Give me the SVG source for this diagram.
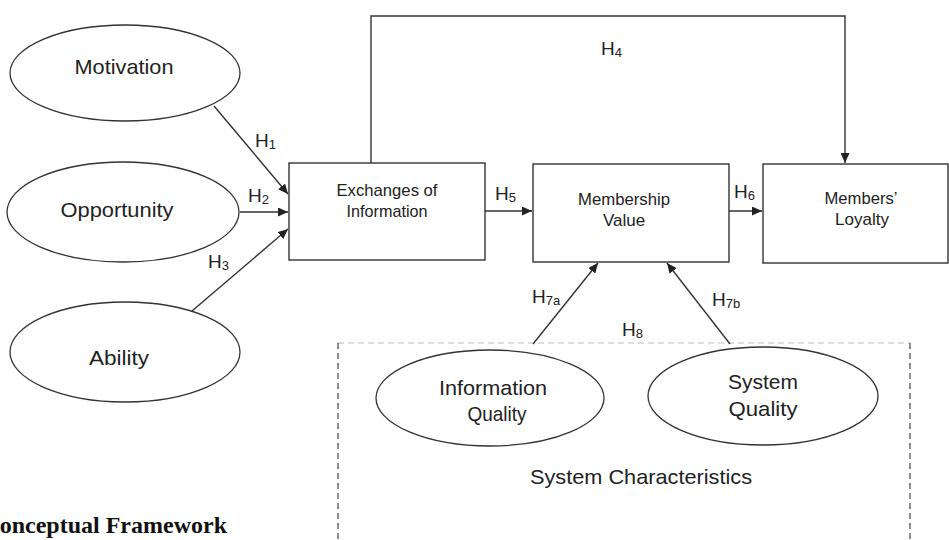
<svg xmlns="http://www.w3.org/2000/svg" width="949" height="540" viewBox="0 0 949 540">
<style>
.bg{fill:#ffffff}
.node{fill:#ffffff;stroke:#333333;stroke-width:1.4}
.ell{fill:#ffffff;stroke:#333333;stroke-width:1.3}
.lbl{font-family:"Liberation Sans",Arial,sans-serif;fill:#222222;text-anchor:middle}
.big{font-size:21px}
.box{font-size:17px}
.h{font-family:"Liberation Sans",Arial,sans-serif;fill:#222222;font-size:19px}
.sub{font-size:13px}
.edge{fill:none;stroke:#333333;stroke-width:1.4}
.dash{fill:none;stroke:#444444;stroke-width:1.2;stroke-dasharray:6,4}
.dashl{fill:none;stroke:#bbbbbb;stroke-width:1.2;stroke-dasharray:6,4}
.title{font-family:"Liberation Serif","Times New Roman",serif;font-weight:bold;font-size:24px;fill:#111111;text-anchor:end}
</style>
<defs>
<marker id="arr" markerUnits="userSpaceOnUse" markerWidth="11" markerHeight="9" refX="10" refY="4.5" orient="auto">
<path d="M0,0 L10,4.5 L0,9 z" fill="#222222"/>
</marker>
</defs>
<rect class="bg" x="0" y="0" width="949" height="540"/>

<g id="system-characteristics">
<path class="dashl" d="M338,343 L910,343"/>
<path class="dash" d="M338,343 L338,540 M910,343 L910,540"/>
<text class="lbl big" x="641" y="484" textLength="222" lengthAdjust="spacingAndGlyphs">System Characteristics</text>
</g>

<g id="connectors">
<path class="edge" d="M214,106 L288,194" marker-end="url(#arr)"/>
<path class="edge" d="M240,212 L288,212" marker-end="url(#arr)"/>
<path class="edge" d="M192,311 L288,229" marker-end="url(#arr)"/>
<path class="edge" d="M371,163 L371,16 L845,16 L845,163" marker-end="url(#arr)"/>
<path class="edge" d="M485,211 L532,211" marker-end="url(#arr)"/>
<path class="edge" d="M729,211 L762,211" marker-end="url(#arr)"/>
<path class="edge" d="M533,344 L598,263" marker-end="url(#arr)"/>
<path class="edge" d="M730,344 L667,263" marker-end="url(#arr)"/>
<text class="h" x="255" y="147">H<tspan class="sub" dy="2">1</tspan></text>
<text class="h" x="248" y="202">H<tspan class="sub" dy="2">2</tspan></text>
<text class="h" x="208" y="268">H<tspan class="sub" dy="2">3</tspan></text>
<text class="h" x="601" y="55">H<tspan class="sub" dy="2">4</tspan></text>
<text class="h" x="495" y="200">H<tspan class="sub" dy="2">5</tspan></text>
<text class="h" x="734" y="198">H<tspan class="sub" dy="2">6</tspan></text>
<text class="h" x="532" y="303">H<tspan class="sub" dy="2">7a</tspan></text>
<text class="h" x="712" y="306">H<tspan class="sub" dy="2">7b</tspan></text>
<text class="h" x="622" y="336">H<tspan class="sub" dy="2">8</tspan></text>
</g>

<g id="motivation">
<ellipse class="ell" cx="125" cy="73" rx="115" ry="48"/>
<text class="lbl big" x="124" y="74" textLength="99" lengthAdjust="spacingAndGlyphs">Motivation</text>
</g>

<g id="opportunity">
<ellipse class="ell" cx="123" cy="212" rx="116" ry="50"/>
<text class="lbl big" x="117" y="217" textLength="113" lengthAdjust="spacingAndGlyphs">Opportunity</text>
</g>

<g id="ability">
<ellipse class="ell" cx="125" cy="352" rx="115" ry="50"/>
<text class="lbl big" x="119" y="365" textLength="60" lengthAdjust="spacingAndGlyphs">Ability</text>
</g>

<g id="exchanges">
<rect class="node" x="289" y="163" width="196" height="97"/>
<text class="lbl box" x="387" y="196" textLength="101" lengthAdjust="spacingAndGlyphs">Exchanges of</text>
<text class="lbl box" x="387" y="217" textLength="81" lengthAdjust="spacingAndGlyphs">Information</text>
</g>

<g id="membership-value">
<rect class="node" x="533" y="164" width="196" height="98"/>
<text class="lbl box" x="624" y="205" textLength="92" lengthAdjust="spacingAndGlyphs">Membership</text>
<text class="lbl box" x="624" y="226">Value</text>
</g>

<g id="members-loyalty">
<rect class="node" x="763" y="164" width="185" height="99"/>
<text class="lbl box" x="861" y="204" textLength="73" lengthAdjust="spacingAndGlyphs">Members’</text>
<text class="lbl box" x="862" y="225">Loyalty</text>
</g>

<g id="information-quality">
<ellipse class="ell" cx="490" cy="398" rx="114" ry="48"/>
<text class="lbl big" x="493" y="395" textLength="108" lengthAdjust="spacingAndGlyphs">Information</text>
<text class="lbl big" x="497" y="421" textLength="59" lengthAdjust="spacingAndGlyphs">Quality</text>
</g>

<g id="system-quality">
<ellipse class="ell" cx="763" cy="396" rx="115" ry="49"/>
<text class="lbl big" x="763" y="389" textLength="70" lengthAdjust="spacingAndGlyphs">System</text>
<text class="lbl big" x="763" y="416" textLength="69" lengthAdjust="spacingAndGlyphs">Quality</text>
</g>

<text class="title" x="227" y="533">onceptual Framework</text>
</svg>
